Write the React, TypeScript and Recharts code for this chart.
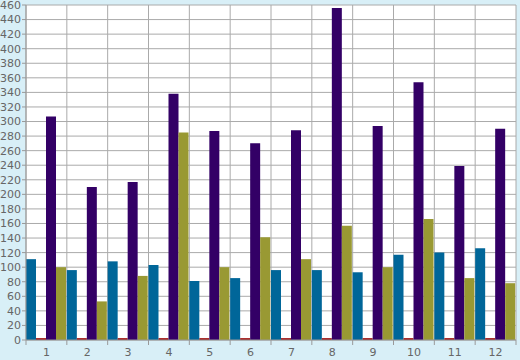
import React from 'react';
import { BarChart, Bar, XAxis, YAxis, CartesianGrid } from 'recharts';

const categories = ['1', '2', '3', '4', '5', '6', '7', '8', '9', '10', '11', '12'];
const blueValues = [111, 96, 108, 103, 81, 85, 96, 96, 93, 117, 120, 126];
const redValues = [2.5, 2.5, 2.5, 2.5, 2.5, 2.5, 2.5, 2.5, 2.5, 2.5, 2.5, 2.5];
const purpleValues = [307, 210, 217, 338, 287, 270, 288, 456, 294, 354, 239, 290];
const oliveValues = [100, 53, 88, 285, 100, 141, 111, 157, 100, 166, 85, 78];
const yTicks = Array.from({ length: 24 }, (_, i) => i * 20);

const data = categories.map((name, i) => ({
    name,
    blue: blueValues[i],
    red: redValues[i],
    purple: purpleValues[i],
    olive: oliveValues[i],
}));

const W = 520;
const H = 360;
const LEFT = 26;
const RIGHT = 4;
const BAND = (W - LEFT - RIGHT) / categories.length;

const XTick = (props: any) => {
    const { x, y, payload, index } = props;
    return (
        <g>
            <line x1={x - BAND / 2} x2={x - BAND / 2} y1={y - 8} y2={y - 3} stroke="#999" />
            {index === categories.length - 1 && (
                <line x1={x + BAND / 2} x2={x + BAND / 2} y1={y - 8} y2={y - 3} stroke="#999" />
            )}
            <text x={x} y={y + 8} textAnchor="middle" fill="#666" fontSize={11} fontFamily="DejaVu Sans">
                {payload.value}
            </text>
        </g>
    );
};

const App: React.FC = () => {
    return (
        <div style={{ position: 'fixed', left: 0, top: 0, width: W, height: H, background: '#d8eff7' }}>
            <BarChart
                width={W}
                height={H}
                data={data}
                margin={{ top: 5, right: RIGHT, left: 0, bottom: 0 }}
                barCategoryGap={0}
                barGap={0}
            >
                <CartesianGrid
                    stroke="#aaa"
                    fill="#fff"
                    fillOpacity={1}
                    verticalCoordinatesGenerator={({ offset }: any) =>
                        categories.map((_, i) => offset.left + i * (offset.width / categories.length)).concat([offset.left + offset.width])
                    }
                />
                <XAxis
                    dataKey="name"
                    height={20}
                    tickLine={false}
                    axisLine={{ stroke: '#999' }}
                    tick={<XTick />}
                    interval={0}
                />
                <YAxis
                    width={LEFT}
                    domain={[0, 460]}
                    ticks={yTicks}
                    interval={0}
                    tickSize={4}
                    tickMargin={1}
                    tickLine={{ stroke: '#999' }}
                    axisLine={{ stroke: '#999' }}
                    tick={{ fill: '#666', fontSize: 11, fontFamily: 'DejaVu Sans' }}
                />
                <Bar dataKey="blue" fill="#006699" isAnimationActive={false} />
                <Bar dataKey="red" fill="#990000" isAnimationActive={false} />
                <Bar dataKey="purple" fill="#330066" isAnimationActive={false} />
                <Bar dataKey="olive" fill="#999933" isAnimationActive={false} />
            </BarChart>
        </div>
    );
};

export default App;
